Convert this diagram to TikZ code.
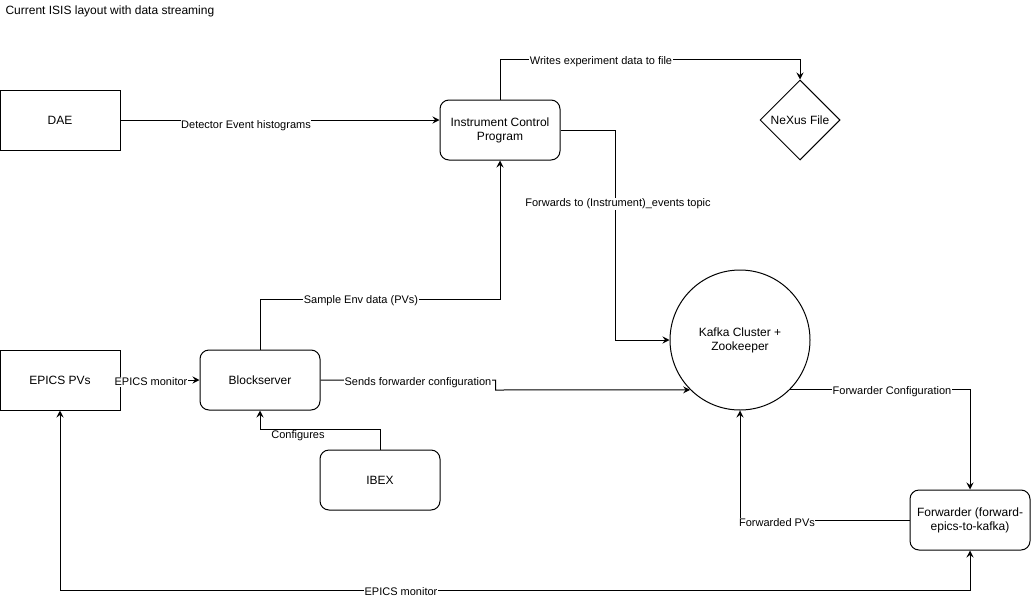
\documentclass[tikz,border=0pt]{standalone}
\usepackage{fontspec}
\setmainfont{Liberation Sans}
\usetikzlibrary{shapes.geometric,arrows.meta}
\begin{document}
\begin{tikzpicture}[x=1pt,y=-1pt,
  line width=1pt,
  box/.style={draw,rectangle,minimum width=120pt,minimum height=60pt,inner sep=0pt,font=\fontsize{12}{14}\selectfont,align=center},
  rbox/.style={box,rounded corners=9pt},
  lbl/.style={fill=white,inner sep=0.5pt,font=\fontsize{11}{13}\selectfont},
  arr/.style={-{Stealth[length=7pt,width=7pt,inset=2.5pt]}},
  arrb/.style={{Stealth[length=7pt,width=7pt,inset=2.5pt]}-{Stealth[length=7pt,width=7pt,inset=2.5pt]}}]
\useasboundingbox (0,0) rectangle (1031,600);
\node[anchor=west,inner sep=0pt,font=\fontsize{12}{14}\selectfont] (title) at (5,11) {Current ISIS layout with data streaming};
\node[box] (dae) at (60,120) {DAE};
\node[rbox] (icp) at (500,130) {Instrument Control\\Program};
\node[draw,diamond,aspect=1,minimum width=80pt,minimum height=80pt,inner sep=0pt,font=\fontsize{12}{14}\selectfont] (nexus) at (800,120) {NeXus File};
\node[draw,circle,minimum size=140pt,inner sep=0pt,font=\fontsize{12}{14}\selectfont,align=center] (kafka) at (740,340) {Kafka Cluster +\\Zookeeper};
\node[box] (epics) at (60,380) {EPICS PVs};
\node[rbox] (bs) at (260,380) {Blockserver};
\node[rbox] (ibex) at (380,480) {IBEX};
\node[rbox] (fwd) at (970,520) {Forwarder (forward-\\epics-to-kafka)};
% connectors
\draw[arr] (dae.east) -- (dae.east -| icp.west);
\draw[arr] (icp.north) -- ++(0,-40) -| (nexus.north);
\draw[arr] (icp.east) -- ++(55,0) |- (kafka.west);
\draw[arr] (bs.north) -- ++(0,-50) -| (icp.south);
\draw[arr] (epics.east) -- (bs.west);
\draw[arr] (bs.east) -- ++(175,0) -- ++(0,10) -- (kafka.225.6);
\draw[arr] (ibex.north) -- ++(0,-20) -| (bs.south);
\draw[arr] (kafka.-45) -| (fwd.north);
\draw[arr] (fwd.west) -| (kafka.south);
\draw[arrb] (epics.south) -- ++(0,180) -| (fwd.south);
% labels
\node[lbl] (l1) at (246,126) {Detector Event histograms};
\node[lbl] (l2) at (601,62) {Writes experiment data to file};
\node[lbl] (l3) at (618,204) {Forwards to (Instrument)\_events topic};
\node[lbl] (l4) at (361,301) {Sample Env data (PVs)};
\node[lbl] (l5) at (151,382) {EPICS monitor};
\node[lbl] (l6) at (418,383) {Sends forwarder configuration};
\node[lbl] (l7) at (298,436) {Configures};
\node[lbl] (l8) at (892,392) {Forwarder Configuration};
\node[lbl] (l9) at (777,523) {Forwarded PVs};
\node[lbl] (l10) at (401,592) {EPICS monitor};
\end{tikzpicture}
\end{document}
